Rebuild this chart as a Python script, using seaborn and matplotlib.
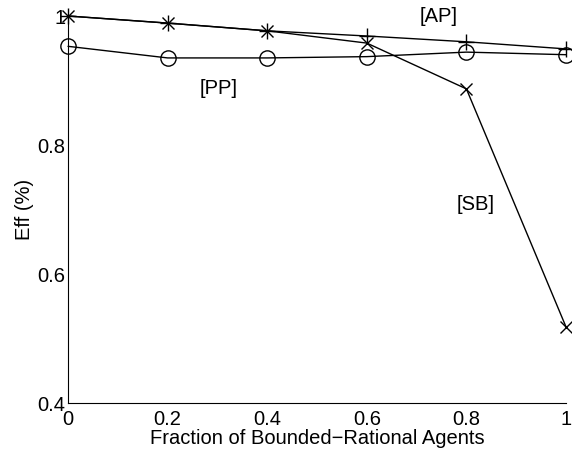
import matplotlib
matplotlib.use("Agg")
import matplotlib.pyplot as plt
import seaborn as sns
import pandas as pd

x = [0, 0.2, 0.4, 0.6, 0.8, 1.0]
ap = [1.0, 0.989, 0.977, 0.969, 0.960, 0.949]
sb = [1.0, 0.989, 0.977, 0.958, 0.887, 0.518]
pp = [0.953, 0.935, 0.935, 0.937, 0.944, 0.940]
xticks = [0, 0.2, 0.4, 0.6, 0.8, 1]
xticklabels = ["0", "0.2", "0.4", "0.6", "0.8", "1"]
yticks = [0.4, 0.6, 0.8, 1.0]
yticklabels = ["0.4", "0.6", "0.8", "1"]

sns.set_style("white")
plt.rcParams['font.family'] = ['Liberation Sans', 'DejaVu Sans']
plt.rcParams['text.color'] = 'black'
plt.rcParams['axes.labelcolor'] = 'black'
FS = 14.5

fig = plt.figure(figsize=(5.72, 4.59), dpi=100)
ax = fig.add_axes([68/572, 1-403/459, (566-68)/572, (403-16)/459])

df = pd.DataFrame({"x": x, "AP": ap, "SB": sb, "PP": pp})
sns.lineplot(data=df, x="x", y="AP", ax=ax, color="black", lw=1, marker="+", markersize=11,
             markeredgewidth=1, markeredgecolor="black", clip_on=False)
sns.lineplot(data=df, x="x", y="SB", ax=ax, color="black", lw=1, marker="x", markersize=8,
             markeredgewidth=1, markeredgecolor="black", clip_on=False)
sns.lineplot(data=df, x="x", y="PP", ax=ax, color="black", lw=1, marker="o", markersize=11,
             markerfacecolor="none", markeredgewidth=1, markeredgecolor="black", clip_on=False)

ax.set_xlim(0, 1)
ax.set_ylim(0.4, 1.0)
ax.set_xticks(xticks)
ax.set_xticklabels(xticklabels)
ax.set_yticks(yticks)
ax.set_yticklabels(yticklabels)
ax.tick_params(direction="in", length=4, width=0.8, labelsize=FS, pad=2, colors="black")
ax.tick_params(axis="x", pad=5)
for s in ["top", "right"]:
    ax.spines[s].set_visible(False)
for s in ["left", "bottom"]:
    ax.spines[s].set_color("black")
    ax.spines[s].set_linewidth(0.8)

ax.set_xlabel("Fraction of Bounded\u2212Rational Agents", fontsize=FS, labelpad=0)
ax.set_ylabel("Eff (%)", fontsize=FS, labelpad=2)

ax.text(0.707, 0.999, "[AP]", fontsize=FS, ha="left", va="center")
ax.text(0.265, 0.888, "[PP]", fontsize=FS, ha="left", va="center")
ax.text(0.781, 0.707, "[SB]", fontsize=FS, ha="left", va="center")

fig.savefig("out.png", dpi=100)
